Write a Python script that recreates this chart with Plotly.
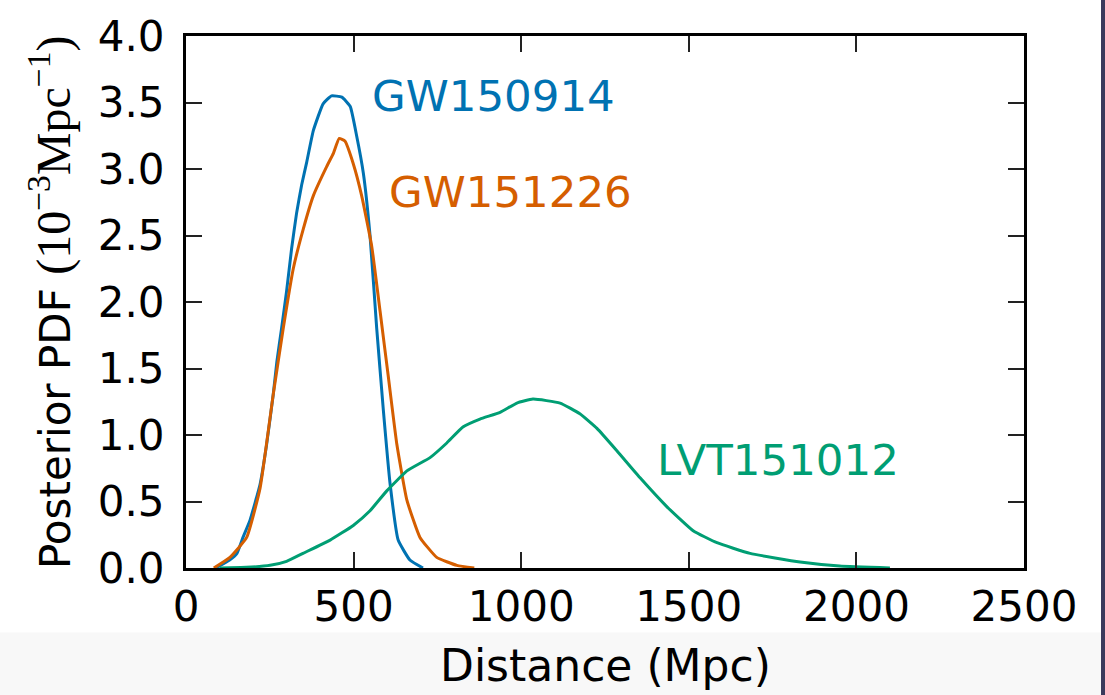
import plotly.graph_objects as go

# ---- data ----
gw150914_x = [88, 130, 152, 170, 191, 221, 240, 260, 271, 285, 300, 315, 330, 345, 360, 380, 409, 434, 465, 490, 509, 529, 549, 569, 589, 609, 633, 668, 707]
gw150914_y = [0.0, 0.06, 0.11, 0.23, 0.36, 0.63, 0.92, 1.3, 1.55, 1.8, 2.08, 2.4, 2.67, 2.88, 3.05, 3.29, 3.49, 3.55, 3.54, 3.47, 3.25, 2.97, 2.5, 1.8, 1.18, 0.63, 0.21, 0.06, 0.0]

gw151226_x = [83, 131, 181, 221, 260, 290, 320, 350, 380, 420, 440, 457, 474, 499, 524, 554, 579, 604, 629, 659, 698, 748, 808, 860]
gw151226_y = [0.0, 0.08, 0.23, 0.6, 1.3, 1.8, 2.25, 2.55, 2.8, 3.02, 3.12, 3.23, 3.21, 3.04, 2.8, 2.42, 1.93, 1.43, 0.93, 0.51, 0.23, 0.08, 0.02, 0.0]

lvt151012_x = [100, 180, 251, 300, 349, 430, 499, 549, 599, 659, 728, 778, 826, 877, 937, 987, 1035, 1116, 1175, 1226, 1286, 1354, 1435, 1513, 1584, 1683, 1832, 1950, 2100]
lvt151012_y = [0.0, 0.005, 0.02, 0.05, 0.11, 0.21, 0.32, 0.43, 0.58, 0.73, 0.83, 0.94, 1.06, 1.12, 1.17, 1.24, 1.27, 1.24, 1.16, 1.05, 0.88, 0.68, 0.46, 0.28, 0.19, 0.11, 0.045, 0.015, 0.0]

series_names = ["GW150914", "GW151226", "LVT151012"]
series_colors = ["#0072B2", "#D55E00", "#009E73"]
label_pos = [(548, 3.55), (600, 2.83), (1400, 0.815)]

x_ticks = [0, 500, 1000, 1500, 2000, 2500]
y_ticks = [0.0, 0.5, 1.0, 1.5, 2.0, 2.5, 3.0, 3.5, 4.0]

FONT = "DejaVu Sans"
FS = 42

fig = go.Figure()
for name, xs, ys, col in zip(series_names,
                              [gw150914_x, gw151226_x, lvt151012_x],
                              [gw150914_y, gw151226_y, lvt151012_y],
                              series_colors):
    fig.add_trace(go.Scatter(x=xs, y=ys, mode="lines", name=name,
                             line=dict(color=col, width=3, shape="spline", smoothing=0.4),
                             showlegend=False))

for name, col, (lx, ly) in zip(series_names, series_colors, label_pos):
    fig.add_annotation(x=lx, y=ly, xref="x", yref="y", text=name, showarrow=False,
                       xanchor="left", yanchor="middle",
                       font=dict(family=FONT, size=43.5, color=col))

axis_common = dict(showline=True, linewidth=3, linecolor="black", mirror="ticks",
                   ticks="inside", ticklen=16, tickwidth=2, tickcolor="#222",
                   showgrid=False, zeroline=False,
                   tickfont=dict(family=FONT, size=FS, color="black"))

fig.update_xaxes(range=[0, 2500], tickvals=x_ticks, ticktext=[str(v) for v in x_ticks],
                 ticklabelstandoff=0, **axis_common)
fig.update_yaxes(range=[0, 4], tickvals=y_ticks, ticktext=["%.1f" % v for v in y_ticks],
                 ticklabelstandoff=10, **axis_common)

# axis titles as annotations
fig.add_annotation(xref="paper", yref="paper", x=(605 - 186) / 838, y=(568 - 666) / 536,
                   text="Distance (Mpc)", showarrow=False, xanchor="center", yanchor="middle",
                   font=dict(family=FONT, size=44, color="black"))
fig.add_annotation(xref="paper", yref="paper", x=(50 - 186) / 838, y=0.5, textangle=-90,
                   text="Posterior PDF <span style=\"font-family:'Liberation Serif';font-size:48px\">(10<sup>−3</sup>Mpc<sup>−1</sup>)</span>",
                   showarrow=False, xanchor="center", yanchor="middle",
                   font=dict(family=FONT, size=42, color="black"))

# background bands (bottom grey strip, right dark edge)
fig.add_shape(type="rect", xref="paper", yref="paper", layer="below",
              x0=-0.23, x1=(1101 - 186) / 838, y0=(568 - 700) / 536, y1=(568 - 633) / 536,
              fillcolor="#f8f8f8", line=dict(width=0))
fig.add_shape(type="rect", xref="paper", yref="paper", layer="below",
              x0=(1101 - 186) / 838, x1=1.1, y0=(568 - 700) / 536, y1=(568 + 5) / 536,
              fillcolor="#3a3a5c", line=dict(width=0))

fig.update_layout(width=1105, height=695,
                  margin=dict(l=186, r=81, t=32, b=127, pad=0),
                  paper_bgcolor="white", plot_bgcolor="white")

fig.write_html("out.html")
